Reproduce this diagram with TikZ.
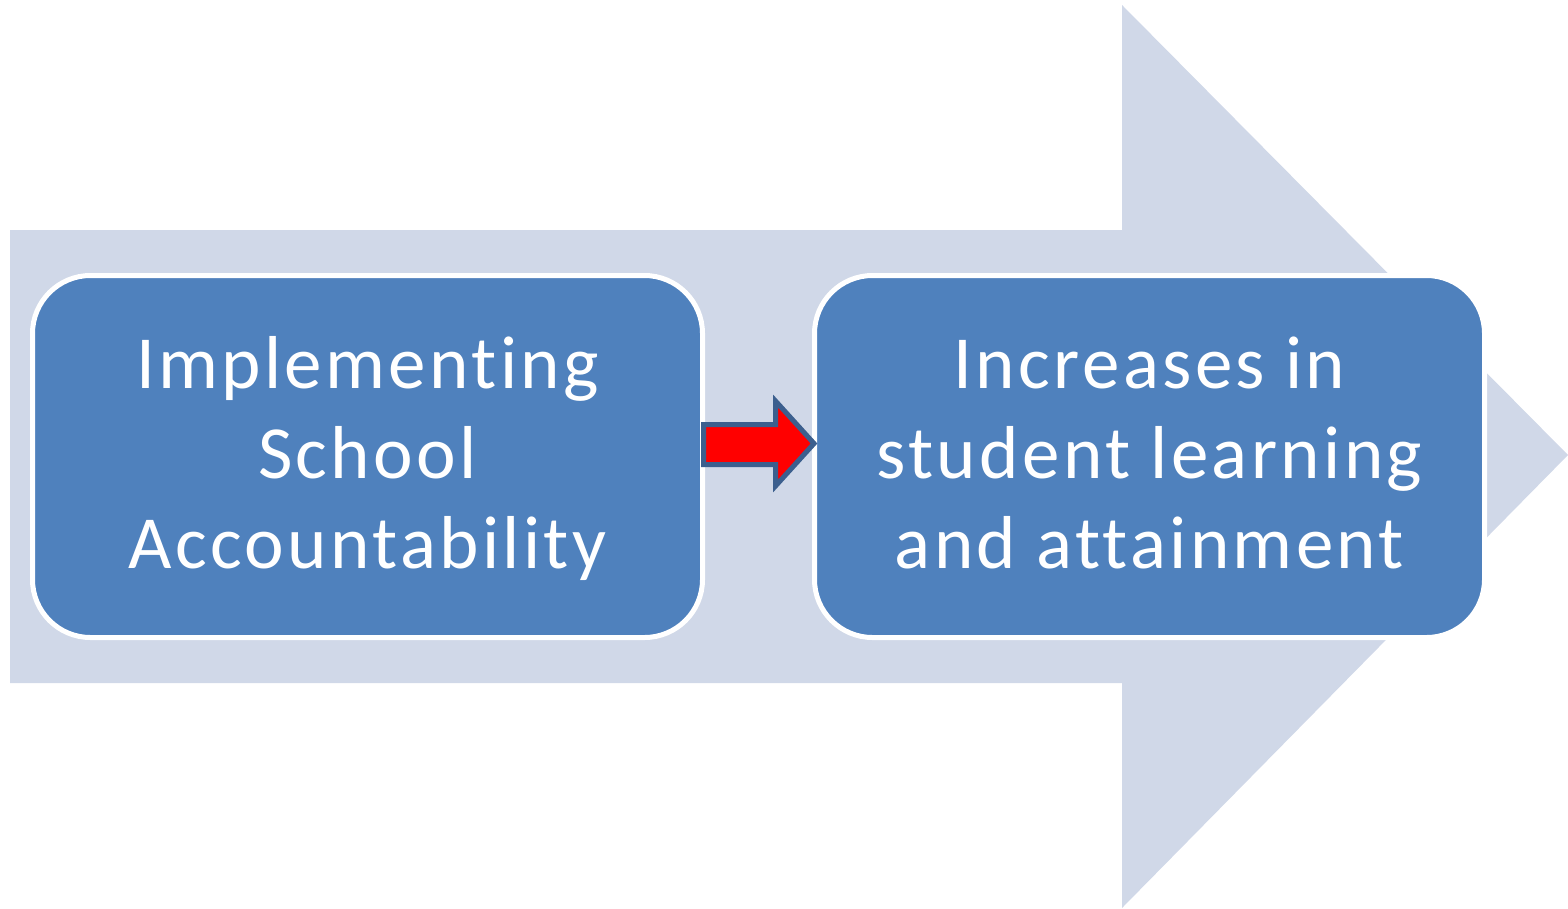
\documentclass[tikz,border=0pt]{standalone}
\usepackage{fontspec}
\setmainfont{Carlito}[Ligatures={NoCommon},LetterSpace=4.5]
\definecolor{bigarrow}{HTML}{D0D8E8}
\definecolor{boxblue}{HTML}{4F81BD}
\definecolor{arrowline}{HTML}{3C5F8E}
\newcommand{\topstrut}{\rule{0pt}{71pt}}
\begin{document}
\begin{tikzpicture}[x=1pt,y=-1pt,
  stagebox/.style={draw=white,line width=5pt,fill=boxblue,rounded corners=58pt,
    text=white,align=center,font=\fontsize{75}{90}\selectfont,
    minimum width=670pt,minimum height=362pt,inner sep=0pt}]
\useasboundingbox (0,0) rectangle (1568,908);
% big background arrow
\fill[bigarrow] (10,230) -- (1122,230) -- (1122,5) -- (1568,455)
  -- (1122,908) -- (1122,683) -- (10,683) -- cycle;
% boxes
\node[stagebox] (a) at (367.5,456.5) {\topstrut Implementing\\School\\Accountability\strut};
\node[stagebox] (b) at (1149.5,456.5) {\topstrut Increases in\\student learning\\and attainment\strut};
% red arrow
\draw[arrowline,line width=5pt,fill=red,line join=miter]
  (703.5,424.5) -- (775.5,424.5) -- (775.5,401) -- (814,443.5) -- (775.5,486)
  -- (775.5,464.5) -- (703.5,464.5) -- cycle;
\end{tikzpicture}
\end{document}
